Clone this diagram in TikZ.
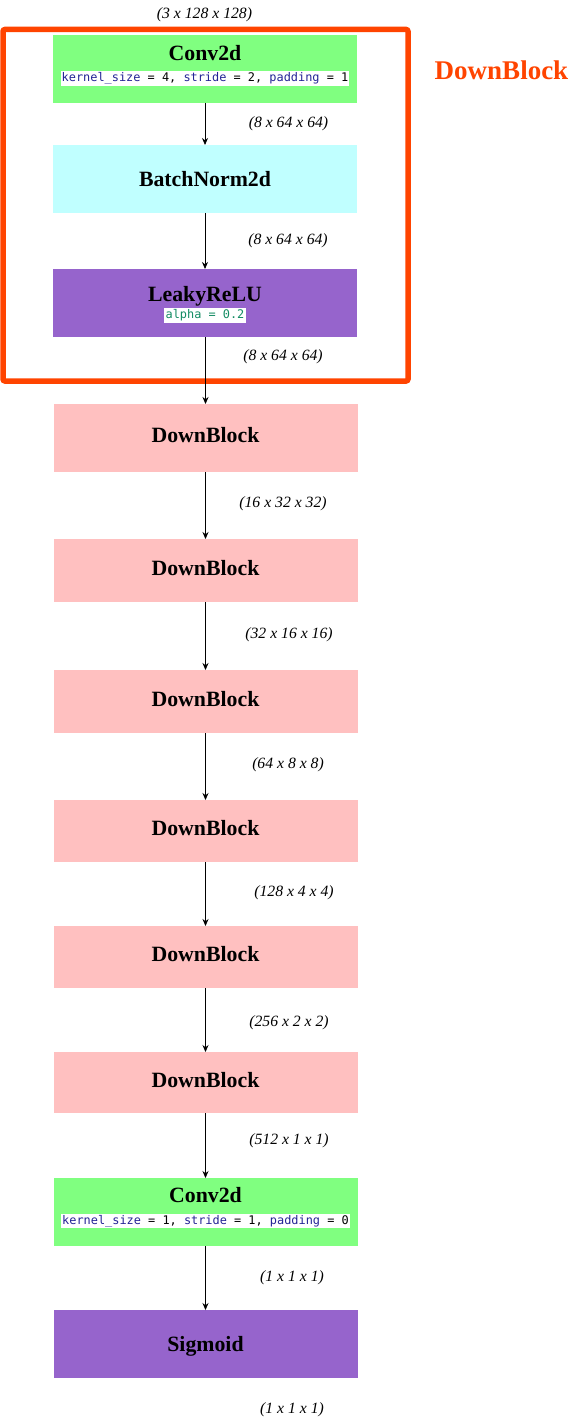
\documentclass[tikz,border=0pt]{standalone}
\usepackage{fontspec}
\setmainfont{Liberation Serif}
\newfontfamily\codefont{DejaVu Sans Mono}
\usetikzlibrary{arrows.meta}
\definecolor{convgreen}{RGB}{128,255,128}
\definecolor{bncyan}{RGB}{192,255,255}
\definecolor{actpurple}{RGB}{150,100,204}
\definecolor{dbpink}{RGB}{255,192,192}
\definecolor{grouporange}{RGB}{255,68,0}
\definecolor{codenavy}{RGB}{36,36,150}
\definecolor{codegreen}{RGB}{20,140,100}
\tikzset{
  layerbox/.style={minimum width=304pt, inner sep=0pt, outer sep=0pt},
  boxtitle/.style={font=\fontsize{21.8}{24}\selectfont\bfseries},
  dbbox/.style={layerbox, fill=dbpink, boxtitle, text depth=6pt},
  titletext/.style={font=\fontsize{21.8}{24}\selectfont\bfseries, inner sep=0pt, text depth=0pt},
  codetext/.style={font=\codefont\fontsize{11.9}{13}\selectfont, fill=white, inner xsep=1.2pt, inner ysep=1.5pt},
  dimlabel/.style={font=\fontsize{15.7}{18}\selectfont\itshape, inner sep=0pt},
  flow/.style={draw=black, line width=0.8pt, -{Stealth[length=7pt,width=6pt]}},
}
\newcommand{\cn}[1]{\textcolor{codenavy}{#1}}
\begin{document}
\begin{tikzpicture}[x=1pt,y=-1pt]
\useasboundingbox (0,0) rectangle (575,1423);
% group frame
\node[draw=grouporange, line width=5.5pt, rounded corners=2pt, minimum width=405pt, minimum height=351.5pt, inner sep=0pt] (group) at (205.5,205.25) {};
\node[font=\fontsize{27}{30}\selectfont\bfseries, text=grouporange, inner sep=0pt] (grouplabel) at (501.5,70) {DownBlock};
% boxes
\node[layerbox, fill=convgreen, minimum height=68pt] (conv1) at (205,69) {};
\node[titletext] (conv1t) at (205,53) {Conv2d};
\node[codetext] (conv1c) at (205,78.5) {\cn{kernel\_size} = 4, \cn{stride} = 2, \cn{padding} = 1};
\node[layerbox, fill=bncyan, minimum height=68pt, boxtitle] (bn) at (205,179) {BatchNorm2d};
\node[layerbox, fill=actpurple, minimum height=68pt] (lrelu) at (205,303) {};
\node[titletext] (lrelut) at (205,294) {LeakyReLU};
\node[codetext, text=codegreen] (lreluc) at (205,315.5) {alpha = 0.2};
\node[dbbox, minimum height=68pt] (db1) at (205.5,438) {DownBlock};
\node[dbbox, minimum height=63pt] (db2) at (205.5,570.5) {DownBlock};
\node[dbbox, minimum height=63pt] (db3) at (205.5,701.5) {DownBlock};
\node[dbbox, minimum height=62pt] (db4) at (205.5,831) {DownBlock};
\node[dbbox, minimum height=62pt] (db5) at (205.5,957) {DownBlock};
\node[dbbox, minimum height=61pt] (db6) at (205.5,1082.5) {DownBlock};
\node[layerbox, fill=convgreen, minimum height=68pt] (conv2) at (205.5,1212) {};
\node[titletext] (conv2t) at (205.5,1195) {Conv2d};
\node[codetext] (conv2c) at (205.5,1221) {\cn{kernel\_size} = 1, \cn{stride} = 1, \cn{padding} = 0};
\node[layerbox, fill=actpurple, minimum height=68pt, boxtitle, text depth=0pt] (sig) at (205.5,1344) {Sigmoid};
% connectors
\draw[flow] (conv1.south) -- (bn.north);
\draw[flow] (bn.south) -- (lrelu.north);
\draw[flow] ([xshift=0.5pt]lrelu.south) -- (db1.north);
\draw[flow] (db1.south) -- (db2.north);
\draw[flow] (db2.south) -- (db3.north);
\draw[flow] (db3.south) -- (db4.north);
\draw[flow] (db4.south) -- (db5.north);
\draw[flow] (db5.south) -- (db6.north);
\draw[flow] (db6.south) -- (conv2.north);
\draw[flow] (conv2.south) -- (sig.north);
% dimension labels
\node[dimlabel] (l0) at (204.5,15) {(3 x 128 x 128)};
\node[dimlabel] (l1) at (288.5,124) {(8 x 64 x 64)};
\node[dimlabel] (l2) at (288,241) {(8 x 64 x 64)};
\node[dimlabel] (l3) at (283,357) {(8 x 64 x 64)};
\node[dimlabel] (l4) at (283,504) {(16 x 32 x 32)};
\node[dimlabel] (l5) at (289,635) {(32 x 16 x 16)};
\node[dimlabel] (l6) at (288,765) {(64 x 8 x 8)};
\node[dimlabel] (l7) at (294,893) {(128 x 4 x 4)};
\node[dimlabel] (l8) at (289,1023) {(256 x 2 x 2)};
\node[dimlabel] (l9) at (289,1141) {(512 x 1 x 1)};
\node[dimlabel] (l10) at (292,1278) {(1 x 1 x 1)};
\node[dimlabel] (l11) at (292,1410) {(1 x 1 x 1)};
\end{tikzpicture}
\end{document}
